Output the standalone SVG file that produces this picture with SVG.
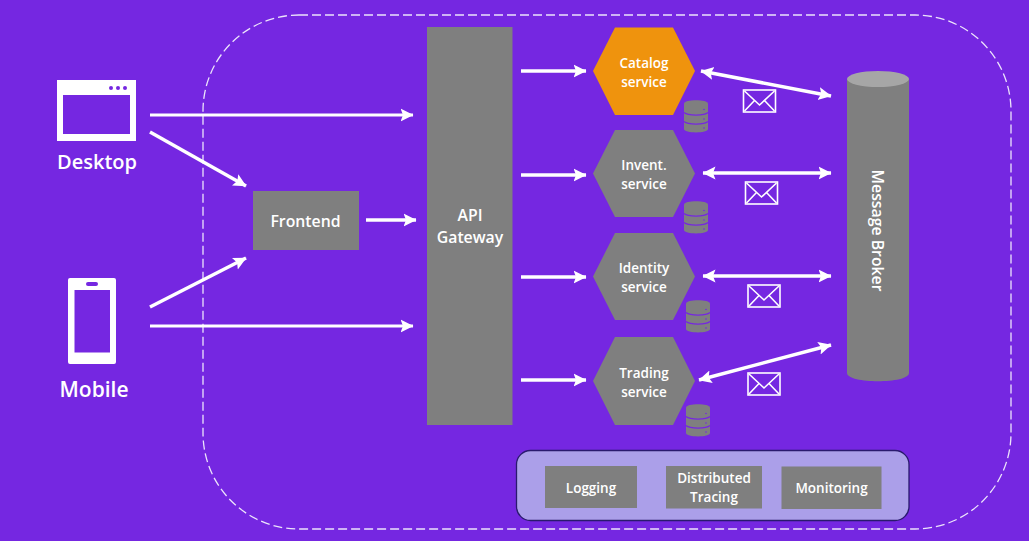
<svg xmlns="http://www.w3.org/2000/svg" xmlns:xlink="http://www.w3.org/1999/xlink" width="1029" height="541" viewBox="0 0 1029 541">
<style>
text{font-family:"Open Sans","Noto Sans","Liberation Sans",sans-serif;fill:#fff;text-anchor:middle;font-weight:600}
.t14{font-size:13.500px}.t15{font-size:15.800px}.t20{font-size:20px}
.box{fill:#7f7f7f}
.c{stroke:#fff;fill:none}
.env{fill:none;stroke:#fff;stroke-width:1.600}
.ah{fill:#fff}
</style>
<defs>
<marker id="a" markerUnits="userSpaceOnUse" markerWidth="14" markerHeight="14" refX="12.500" refY="7" orient="auto-start-reverse"><path class="ah" d="M0 0.500L13 7L0 13.500L2.500 7Z"/></marker>
<g id="db">
<path d="M0 3.500C0 -1 24 -1 24 3.500V29C24 33.500 0 33.500 0 29Z" fill="#7f7f7f"/>
<path d="M0 12.500C4 16 20 16 24 12.500M0 21.500C4 25 20 25 24 21.500" fill="none" stroke="#7527e1" stroke-width="1.100"/>
<circle cx="20" cy="9.500" r=".8" fill="#7527e1"/><circle cx="20" cy="19" r=".8" fill="#7527e1"/><circle cx="20" cy="28" r=".8" fill="#7527e1"/>
</g>
<g id="env">
<rect x="1" y="1" width="32" height="22" class="env" stroke-width="2"/>
<path class="env" d="M2 2L17 16L32 2M2 22L12 11.500M32 22L22 11.500"/>
</g>
</defs>
<rect width="1029" height="541" fill="#7527e1"/>
<rect id="boundary" x="203" y="15" width="808" height="514" rx="96" ry="96" fill="none" stroke="#ece4fb" stroke-width="1.300" stroke-dasharray="9 4"/>

<g id="connectors">
<g class="c" stroke-width="3.500">
<path stroke-width="3" d="M150 115H413" marker-end="url(#a)"/>
<path d="M150 132L246 186" marker-end="url(#a)"/>
<path d="M150 307L246 258" marker-end="url(#a)"/>
<path stroke-width="3" d="M150 326H413" marker-end="url(#a)"/>
<path d="M366 220H416" marker-end="url(#a)"/>
<path d="M521 71H586" marker-end="url(#a)"/>
<path d="M521 175H586" marker-end="url(#a)"/>
<path d="M521 277H586" marker-end="url(#a)"/>
<path d="M521 380H586" marker-end="url(#a)"/>
<path d="M701 71L831 96" marker-start="url(#a)" marker-end="url(#a)"/>
<path d="M703 173H831" marker-start="url(#a)" marker-end="url(#a)"/>
<path d="M703 276H831" marker-start="url(#a)" marker-end="url(#a)"/>
<path d="M699 380L831 345" marker-start="url(#a)" marker-end="url(#a)"/>
</g>
</g>

<g id="desktop">
<path fill="#fff" fill-rule="evenodd" d="M57 80H136V141H57ZM63 95V134H130V95Z"/>
<circle cx="111" cy="88" r="2" fill="#7527e1"/><circle cx="118" cy="88" r="2" fill="#7527e1"/><circle cx="125" cy="88" r="2" fill="#7527e1"/>
<text x="97" y="169" class="t20">Desktop</text>
</g>
<g id="mobile">
<path fill="#fff" fill-rule="evenodd" d="M70 278H114Q116 278 116 280V362Q116 364 114 364H70Q68 364 68 362V280Q68 278 70 278ZM74.500 290V352.500H110V290Z"/>
<rect x="86" y="282" width="12" height="4" rx="2" fill="#7527e1"/>
<text x="94" y="397" class="t20" style="font-size:21px">Mobile</text>
</g>
<g id="frontend">
<rect class="box" x="253" y="191" width="106" height="59"/>
<text x="305.500" y="226.500" class="t15">Frontend</text>
</g>
<g id="api-gateway">
<rect class="box" x="427" y="27" width="85.500" height="398"/>
<text x="470" y="221" class="t15">API</text>
<text x="470" y="243" class="t15">Gateway</text>
</g>
<g id="catalog">
<path fill="#ef930d" d="M593 71L615 27.500H673L695 71L673 115H615Z"/>
<text x="644" y="68" class="t14">Catalog</text>
<text x="644" y="87" class="t14">service</text>
<use xlink:href="#db" href="#db" x="684" y="100"/>
</g>
<g id="invent">
<path class="box" d="M593 173.500L615 130H673L695 173.500L673 217H615Z"/>
<text x="644" y="170" class="t14">Invent.</text>
<text x="644" y="189" class="t14">service</text>
<use xlink:href="#db" href="#db" x="684" y="201"/>
</g>
<g id="identity">
<path class="box" d="M593 276.500L615 233H673L695 276.500L673 320H615Z"/>
<text x="644" y="273" class="t14">Identity</text>
<text x="644" y="292" class="t14">service</text>
<use xlink:href="#db" href="#db" x="686" y="300"/>
</g>
<g id="trading">
<path class="box" d="M593 381L615 337H673L695 381L673 425H615Z"/>
<text x="644" y="377.500" class="t14">Trading</text>
<text x="644" y="396.500" class="t14">service</text>
<use xlink:href="#db" href="#db" x="686" y="404"/>
</g>
<g id="messages">
<use xlink:href="#env" href="#env" x="742.500" y="89"/>
<use xlink:href="#env" href="#env" x="744.500" y="181"/>
<use xlink:href="#env" href="#env" x="747" y="284"/>
<use xlink:href="#env" href="#env" x="747" y="372"/>
</g>
<g id="message-broker">
<path class="box" d="M847 79V373C847 384 909 384 909 373V79Z"/>
<ellipse cx="878" cy="79" rx="31" ry="8" fill="#a6a6a6"/>
<text transform="translate(872 230.500) rotate(90)" class="t15">Message Broker</text>
</g>
<g id="platform">
<rect x="516.500" y="450.500" width="392.500" height="70" rx="14" fill="#ab9fe9" stroke="#2a1a6e" stroke-width="1.300"/>
</g>
<g id="logging">
<rect class="box" x="545" y="466" width="92" height="42"/>
<text x="591" y="493" class="t14">Logging</text>
</g>
<g id="tracing">
<rect class="box" x="666" y="466" width="96" height="42.500"/>
<text x="714" y="483" class="t14">Distributed</text>
<text x="714" y="502" class="t14">Tracing</text>
</g>
<g id="monitoring">
<rect class="box" x="781.500" y="466.500" width="100" height="42.500"/>
<text x="831.500" y="493" class="t14">Monitoring</text>
</g>
</svg>
